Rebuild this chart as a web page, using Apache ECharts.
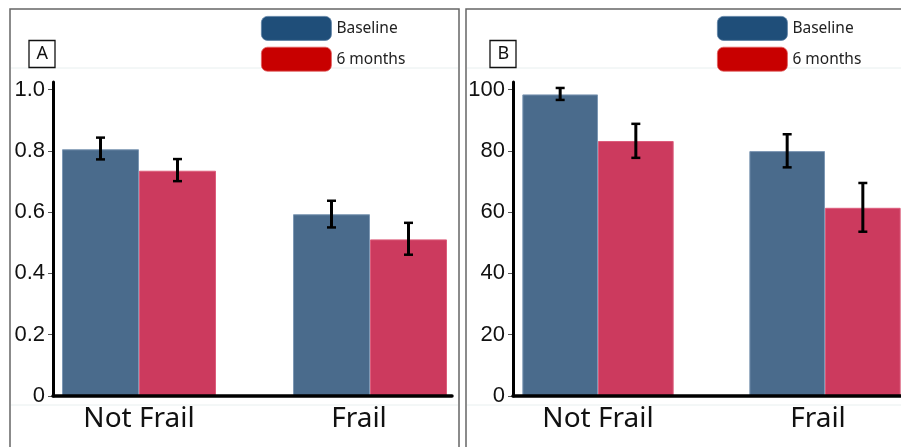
<!DOCTYPE html>
<html><head><meta charset="utf-8">
<script src="https://cdn.jsdelivr.net/npm/echarts@6/dist/echarts.min.js"></script>
<style>html,body{margin:0;padding:0;background:#fff}#c{width:901px;height:447px}</style>
</head><body><div id="c"></div>
<script>
// ---- data ----
const categories = ['Not Frail', 'Frail'];
const seriesNames = ['Baseline', '6 months'];
const panelLabels = ['A', 'B'];

const aBaseline      = [0.805, 0.593];
const aBaselineLow   = [0.772, 0.550];
const aBaselineHigh  = [0.843, 0.637];
const aSixMonths     = [0.735, 0.511];
const aSixMonthsLow  = [0.701, 0.461];
const aSixMonthsHigh = [0.773, 0.565];

const bBaseline      = [98.4, 79.9];
const bBaselineLow   = [96.6, 74.6];
const bBaselineHigh  = [100.5, 85.4];
const bSixMonths     = [83.2, 61.4];
const bSixMonthsLow  = [77.7, 53.6];
const bSixMonthsHigh = [88.8, 69.5];

const aTicks = { min: 0, max: 1.0, interval: 0.2, decimals: 1 };
const bTicks = { min: 0, max: 100, interval: 20, decimals: 0 };

// ---- styles ----
const COL_BASE = '#4a6b8c', COL_SIX = '#cc3a5e';
const LEG_BASE = '#1f4e79', LEG_SIX = '#c80000';
const chart = echarts.init(document.getElementById('c'), null, { renderer: 'canvas' });

function frameAxes(gi) {
  return {
    x: { type: 'category', gridIndex: gi, data: categories, z: 5,
         axisLine: { show: true, lineStyle: { color: '#000', width: 3.5 } },
         axisTick: { show: false }, axisLabel: { show: false }, splitLine: { show: false } },
    y: { type: 'value', gridIndex: gi, min: 0, max: 1, z: 5,
         axisLine: { show: true, lineStyle: { color: '#000', width: 3 } },
         axisTick: { show: false }, axisLabel: { show: false }, splitLine: { show: false } }
  };
}
function tickAxes(gi, t) {
  return {
    x: { type: 'category', gridIndex: gi, data: categories, show: false },
    y: { type: 'value', gridIndex: gi, min: t.min, max: t.max, interval: t.interval,
         axisLine: { show: false },
         axisTick: { show: true, length: 5, lineStyle: { color: '#555', width: 1 } },
         axisLabel: { show: true, margin: 8, fontFamily: 'Liberation Sans', fontSize: 22, color: '#111',
                      formatter: v => (v === 0 ? '0' : v.toFixed(t.decimals)) },
         splitLine: { show: false } }
  };
}
function barAxes(gi, t, shift) {
  return {
    x: { type: 'category', gridIndex: gi, data: categories,
         axisLine: { show: false }, axisTick: { show: false },
         axisLabel: { show: true, margin: 9, fontFamily: 'Noto Sans', fontSize: 28, color: '#111',
                      formatter: (v, i) => (i === 1 ? '{s|' + v + '}' : v),
                      rich: { s: { fontFamily: 'Noto Sans', fontSize: 28, color: '#111', padding: [0, shift, 0, 0] } } } },
    y: { type: 'value', gridIndex: gi, min: t.min, max: t.max, interval: t.interval, show: false,
         splitLine: { show: false } }
  };
}
function barSeries(name, axisIdx, data, color, border) {
  return { type: 'bar', name, xAxisIndex: axisIdx, yAxisIndex: axisIdx, data,
           barWidth: '33.33%', barGap: '0%',
           itemStyle: { color, borderColor: border, borderWidth: 1 } };
}
function errSeries(name, axisIdx, low, high, side) {
  return {
    type: 'custom', name, xAxisIndex: axisIdx, yAxisIndex: axisIdx, z: 10,
    data: categories.map((c, i) => [i, low[i], high[i]]),
    renderItem(params, api) {
      const band = api.size([1, 0])[0];
      const x = api.coord([api.value(0), 0])[0] + side * band / 6;
      const yl = api.coord([api.value(0), api.value(1)])[1];
      const yh = api.coord([api.value(0), api.value(2)])[1];
      const cw = 4.5;
      const st = { stroke: '#000', lineWidth: 3 };
      const sc = { stroke: '#000', lineWidth: 2.5 };
      return { type: 'group', children: [
        { type: 'line', shape: { x1: x, y1: yl, x2: x, y2: yh }, style: st },
        { type: 'line', shape: { x1: x - cw, y1: yh, x2: x + cw, y2: yh }, style: sc },
        { type: 'line', shape: { x1: x - cw, y1: yl, x2: x + cw, y2: yl }, style: sc }
      ] };
    }
  };
}

const G = { outerBoundsMode: 'none', containLabel: false };
const grids = [
  Object.assign({ left: 53, top: 82, width: 399, bottom: 51 }, G),      // A frame
  Object.assign({ left: 53, top: 89.5, width: 399, bottom: 51 }, G),    // A ticks
  Object.assign({ left: 23.5, top: 89.5, width: 462, bottom: 51 }, G),  // A bars
  Object.assign({ left: 513, top: 82, width: 420, bottom: 51 }, G),     // B frame
  Object.assign({ left: 513, top: 89.5, width: 420, bottom: 51 }, G),   // B ticks
  Object.assign({ left: 484.5, top: 89.5, width: 454, bottom: 51 }, G)  // B bars
];
const axA = [frameAxes(0), tickAxes(1, aTicks), barAxes(2, aTicks, 22)];
const axB = [frameAxes(3), tickAxes(4, bTicks), barAxes(5, bTicks, 14)];
const allAx = axA.concat(axB);

function legendAt(left) {
  return { orient: 'vertical', left, top: 16, padding: 0, itemWidth: 70, itemHeight: 24, itemGap: 6,
           icon: 'roundRect', selectedMode: false,
           textStyle: { fontFamily: 'Noto Sans', fontSize: 15.5, color: '#222' },
           data: [ { name: seriesNames[0], itemStyle: { color: LEG_BASE, borderColor: '#5a7fa3', borderWidth: 0.8 } },
                   { name: seriesNames[1], itemStyle: { color: LEG_SIX, borderColor: '#e06060', borderWidth: 0.8 } } ] };
}
function titleAt(text, left) {
  return { text, left, top: 40, padding: [4, 7.5], borderWidth: 1.3, borderColor: '#111',
           textStyle: { fontFamily: 'Noto Sans', fontSize: 18, fontWeight: 'normal', color: '#111', lineHeight: 20 } };
}

const option = {
  animation: false,
  backgroundColor: '#fff',
  title: [ titleAt(panelLabels[0], 29), titleAt(panelLabels[1], 490) ],
  legend: [ legendAt(261), legendAt(717) ],
  grid: grids,
  xAxis: allAx.map(a => a.x),
  yAxis: allAx.map(a => a.y),
  graphic: [
    { type: 'rect', shape: { x: 10, y: 9, width: 449, height: 460 }, style: { fill: 'none', stroke: '#666', lineWidth: 1.5 }, z: -1 },
    { type: 'rect', shape: { x: 466, y: 9, width: 460, height: 460 }, style: { fill: 'none', stroke: '#666', lineWidth: 1.5 }, z: -1 },
    { type: 'line', shape: { x1: 11, y1: 68, x2: 458, y2: 68 }, style: { stroke: '#e8efef', lineWidth: 1 }, z: -1 },
    { type: 'line', shape: { x1: 467, y1: 68, x2: 901, y2: 68 }, style: { stroke: '#e8efef', lineWidth: 1 }, z: -1 },
    { type: 'line', shape: { x1: 11, y1: 405, x2: 458, y2: 405 }, style: { stroke: '#e8efef', lineWidth: 1 }, z: -1 },
    { type: 'line', shape: { x1: 467, y1: 405, x2: 901, y2: 405 }, style: { stroke: '#e8efef', lineWidth: 1 }, z: -1 }
  ],
  series: [
    barSeries(seriesNames[0], 2, aBaseline, COL_BASE, '#7d98b4'),
    barSeries(seriesNames[1], 2, aSixMonths, COL_SIX, '#dd5d7c'),
    errSeries('A baseline SE', 2, aBaselineLow, aBaselineHigh, -1),
    errSeries('A 6 months SE', 2, aSixMonthsLow, aSixMonthsHigh, 1),
    barSeries(seriesNames[0], 5, bBaseline, COL_BASE, '#7d98b4'),
    barSeries(seriesNames[1], 5, bSixMonths, COL_SIX, '#dd5d7c'),
    errSeries('B baseline SE', 5, bBaselineLow, bBaselineHigh, -1),
    errSeries('B 6 months SE', 5, bSixMonthsLow, bSixMonthsHigh, 1)
  ]
};
chart.setOption(option);
</script></body></html>
